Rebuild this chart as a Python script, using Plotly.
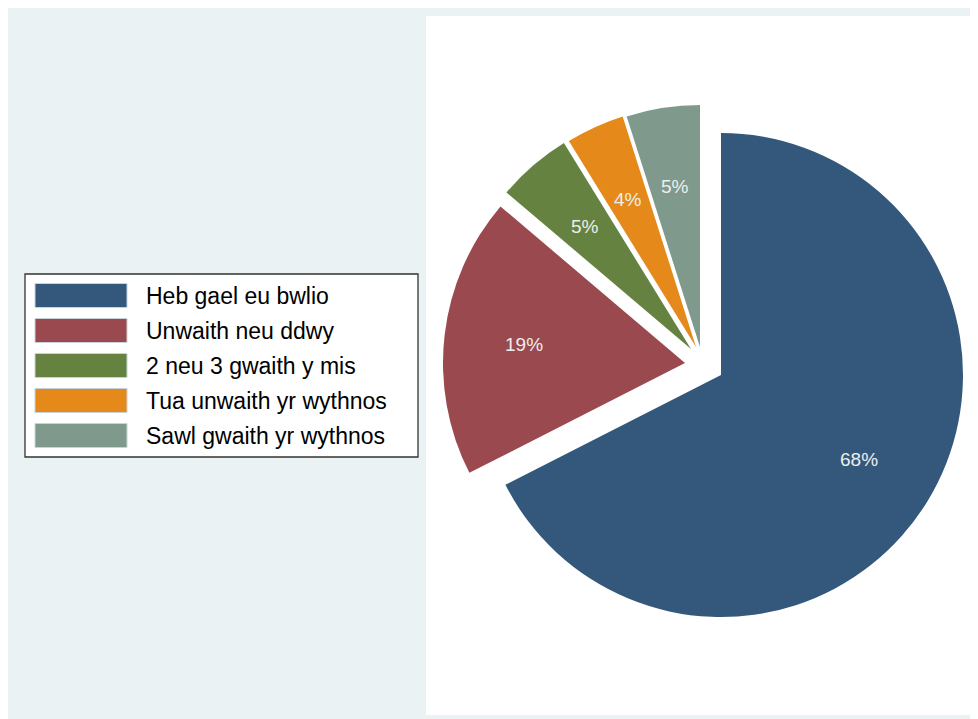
import math
import plotly.graph_objects as go

# ---- data ----
labels = ["Heb gael eu bwlio", "Unwaith neu ddwy", "2 neu 3 gwaith y mis",
          "Tua unwaith yr wythnos", "Sawl gwaith yr wythnos"]
values = [67.5, 18.7, 5.0, 3.9, 4.9]

# ---- style ----
colors = ["#33587C", "#9A494F", "#658241", "#E58A1A", "#7F998D"]
explode_dx = [0, -36, -30, -25, -21]   # px offset of exploded slices
explode_dy = [0, -12, -26, -28, -28]

OFF = 8                      # page body margin
W, H = 978 - OFF, 719 - OFF
CX, CY, R = 721, 375, 242    # window pixel coordinates
FONT = "Liberation Sans, Arial, sans-serif"


def fx(x):
    return (x - OFF) / W


def fy(y):
    return 1 - (y - OFF) / H


fig = go.Figure()
total = sum(values)
pct = [f"{v / total * 100:.0f}%" for v in values]
annotations = []
cum = 0.0
for i, v in enumerate(values):
    cx = CX + explode_dx[i]
    cy = CY + explode_dy[i]
    mc = [colors[j] if j == i else "rgba(0,0,0,0)" for j in range(len(values))]
    fig.add_trace(go.Pie(
        values=values, labels=labels, sort=False, direction="clockwise",
        rotation=0, textinfo="none", hoverinfo="label+percent",
        marker=dict(colors=mc, line=dict(width=0)),
        domain=dict(x=[fx(cx - R), fx(cx + R)], y=[fy(cy + R), fy(cy - R)]),
        showlegend=False,
    ))
    theta = 2 * math.pi * (cum + v / 2) / total
    lx = cx + 0.67 * R * math.sin(theta)
    ly = cy - 0.67 * R * math.cos(theta)
    annotations.append(dict(
        x=fx(lx), y=fy(ly), xref="paper", yref="paper", text=pct[i],
        showarrow=False, xanchor="center", yanchor="middle",
        font=dict(family=FONT, size=19, color="#EDEDED")))
    cum += v

shapes = [
    dict(type="rect", xref="paper", yref="paper", x0=0, x1=1, y0=0, y1=1,
         fillcolor="#EAF2F3", line=dict(width=0), layer="below"),
    dict(type="rect", xref="paper", yref="paper", x0=fx(426), x1=1, y0=fy(715), y1=fy(16),
         fillcolor="white", line=dict(width=0), layer="below"),
    dict(type="rect", xref="paper", yref="paper", x0=fx(25), x1=fx(418), y0=fy(457), y1=fy(274),
         fillcolor="white", line=dict(color="#333333", width=1.3), layer="below"),
]

# legend
for i, lab in enumerate(labels):
    top = 283.5 + 35 * i
    shapes.append(dict(type="rect", xref="paper", yref="paper",
                       x0=fx(35), x1=fx(127), y0=fy(top + 24), y1=fy(top),
                       fillcolor=colors[i], line=dict(color="#C9D2DA", width=1)))
    annotations.append(dict(
        x=fx(144), y=fy(top + 12.5), xref="paper", yref="paper", text=lab,
        showarrow=False, xanchor="left", yanchor="middle",
        font=dict(family=FONT, size=23, color="black")))

fig.update_layout(
    width=W, height=H, margin=dict(l=0, r=0, t=0, b=0),
    paper_bgcolor="#EAF2F3", plot_bgcolor="white",
    shapes=shapes, annotations=annotations, showlegend=False,
)

fig.write_html("out.html")
